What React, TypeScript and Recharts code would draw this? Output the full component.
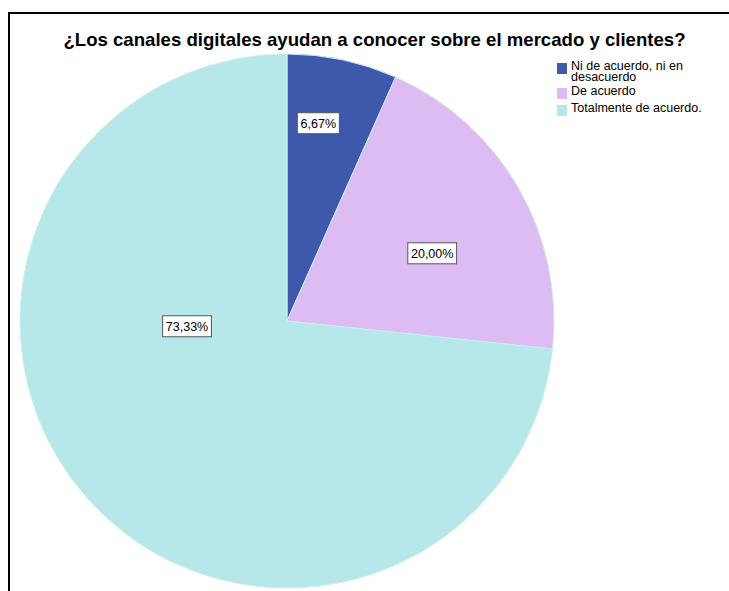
import React from 'react';
import { PieChart, Pie, Cell, Legend } from 'recharts';

const categories = ['Ni de acuerdo, ni en desacuerdo', 'De acuerdo', 'Totalmente de acuerdo.'];
const legendLines = [['Ni de acuerdo, ni en', 'desacuerdo'], ['De acuerdo'], ['Totalmente de acuerdo.']];
const percents = [6.67, 20.0, 73.33];
const colors = ['#3E58AC', '#DDBBF3', '#B6E7E9'];

// where SPSS put each label box: angle (deg) and fraction of radius
const labelSpots = [
  { angle: 81, frac: 0.75 },
  { angle: 25, frac: 0.6 },
  { angle: 183, frac: 0.375 },
];

const data = categories.map((name, i) => ({ name, value: percents[i] }));

const FONT = '"Liberation Sans", Arial, sans-serif';

const renderLabel = (props: any) => {
  const { cx, cy, outerRadius, index, value } = props;
  const spot = labelSpots[index];
  const rad = (spot.angle * Math.PI) / 180;
  const x = cx + Math.cos(rad) * outerRadius * spot.frac;
  const y = cy - Math.sin(rad) * outerRadius * spot.frac;
  const text = value.toFixed(2).replace('.', ',') + '%';
  const w = 8 + text.length * 6.8;
  const h = 21;
  return (
    <g>
      <rect x={x - w / 2} y={y - h / 2} width={w} height={h} fill="#fff" stroke="#555" strokeWidth={1} />
      <text x={x} y={y + 4.5} textAnchor="middle" fontFamily={FONT} fontSize={12.5} fill="#000">
        {text}
      </text>
    </g>
  );
};

const LegendBox = () => (
  <div style={{ fontFamily: FONT, fontSize: 12.5, color: '#000' }}>
    {legendLines.map((lines, i) => (
      <div key={i} style={{ display: 'flex', alignItems: 'flex-start', marginBottom: 3 }}>
        <div
          style={{
            width: 10,
            height: 11,
            background: colors[i],
            marginTop: 3,
            marginRight: 4,
            flexShrink: 0,
          }}
        />
        <div style={{ lineHeight: '10.5px', paddingTop: 1 }}>
          {lines.map((l, j) => (
            <div key={j}>{l}</div>
          ))}
        </div>
      </div>
    ))}
  </div>
);

const App: React.FC = () => {
  return (
    <div style={{ position: 'absolute', left: 0, top: 0, width: 729, height: 591, background: '#fff', overflow: 'hidden' }}>
      <div
        style={{
          position: 'absolute',
          left: 8,
          top: 12,
          width: 740,
          height: 600,
          borderLeft: '2px solid #000',
          borderTop: '2px solid #000',
        }}
      />
      <div
        style={{
          position: 'absolute',
          left: 0,
          width: 749,
          top: 29,
          textAlign: 'center',
          fontFamily: FONT,
          fontWeight: 'bold',
          fontSize: 18.6,
          color: '#000',
        }}
      >
        ¿Los canales digitales ayudan a conocer sobre el mercado y clientes?
      </div>
      <PieChart
        width={729}
        height={591}
        margin={{ top: 0, right: 0, bottom: 0, left: 0 }}
        style={{ position: 'absolute', left: 0, top: 0 }}
      >
        <Pie
          data={data}
          dataKey="value"
          nameKey="name"
          cx={287}
          cy={321}
          outerRadius={267}
          startAngle={90}
          endAngle={-270}
          stroke="#C9EEF0"
          strokeWidth={1}
          label={renderLabel}
          labelLine={false}
          isAnimationActive={false}
        >
          {data.map((d, i) => (
            <Cell key={d.name} fill={colors[i]} />
          ))}
        </Pie>
        <Legend
          layout="vertical"
          content={() => <LegendBox />}
          wrapperStyle={{ position: 'absolute', left: 557, top: 60, width: 170 }}
        />
      </PieChart>
    </div>
  );
};

export default App;
